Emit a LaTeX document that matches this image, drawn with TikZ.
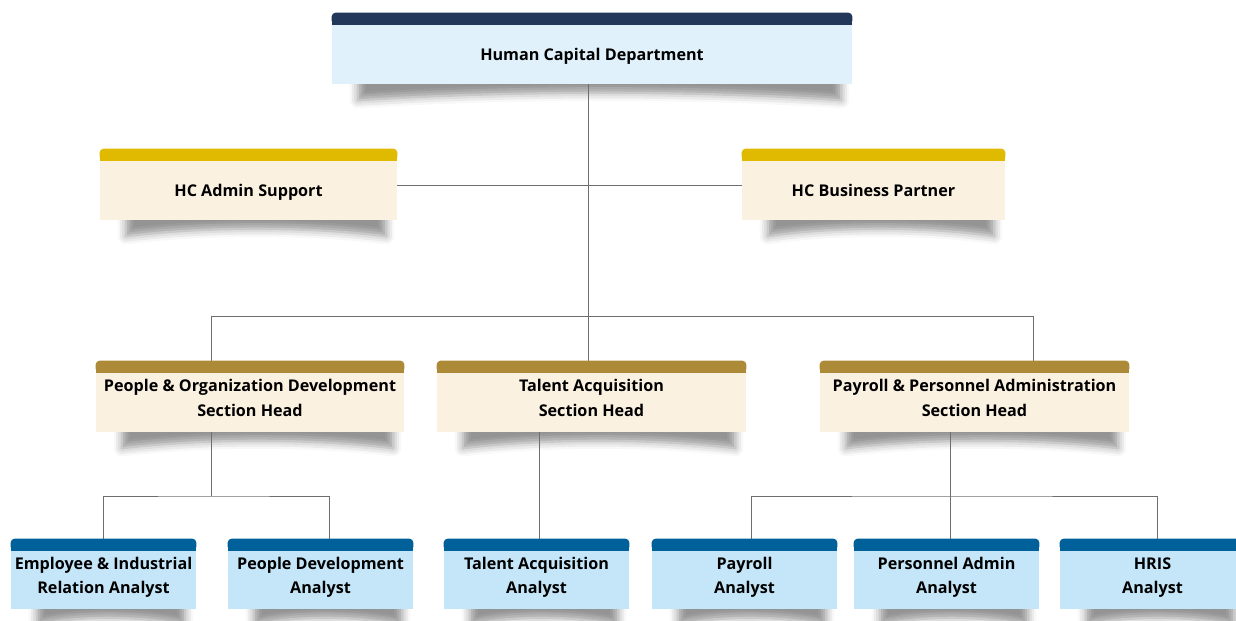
\documentclass[tikz,border=0pt]{standalone}
\usepackage{fontspec}
\setmainfont{Open Sans}
\usepackage{tikz}
\usetikzlibrary{positioning,backgrounds,calc,shadows.blur}
\definecolor{hc-navy}{RGB}{34,55,90}
\definecolor{hc-sky}{RGB}{224,241,251}
\definecolor{hc-gold}{RGB}{224,186,0}
\definecolor{hc-cream}{RGB}{250,241,225}
\definecolor{hc-bronze}{RGB}{173,138,56}
\definecolor{hc-blue}{RGB}{0,96,154}
\definecolor{hc-ice}{RGB}{197,230,248}
\definecolor{hc-line}{RGB}{110,110,110}
\newlength\pu
\setlength\pu{0.02cm}

\begin{document}
\begin{tikzpicture}[x=0.02cm, y=-0.02cm,
    card/.style={rectangle, inner sep=2pt, minimum height=59\pu, align=center, font=\fontsize{9.2}{13.7}\selectfont\bfseries,
        text height=9.9pt, text depth=2.5pt},
    twoline/.style={text height=17.9pt, text depth=2.5pt},
    analyst/.style={card, twoline, fill=hc-ice, minimum width=185\pu, minimum height=58\pu},
    link/.style={draw=hc-line, line width=0.5pt},
    shade/.style={blur shadow={shadow xshift=0pt, shadow yshift=0pt, shadow blur radius=8\pu, shadow opacity=42}}]

    \useasboundingbox (0,0) rectangle (1236,621);

    % Row 1: Department
    \node[card, fill=hc-sky, minimum width=520\pu] (hcd) at (592,54.5) {Human Capital Department};

    % Row 2: Staff
    \node[card, fill=hc-cream, minimum width=297\pu] (adm) at (248.5,190.5) {HC Admin Support};
    \node[card, fill=hc-cream, minimum width=263\pu] (hcbp) at (873.5,190.5) {HC Business Partner};

    % Row 3: Section heads
    \node[card, twoline, fill=hc-cream, minimum width=308\pu] (pod) at (250,402.5) {People \& Organization Development\\Section Head};
    \node[card, twoline, fill=hc-cream, minimum width=309\pu] (ta) at (591.5,402.5) {Talent Acquisition\\Section Head};
    \node[card, twoline, fill=hc-cream, minimum width=309\pu] (ppa) at (974.5,402.5) {Payroll \& Personnel Administration\\Section Head};

    % Row 4: Analysts
    \node[analyst] (eir) at (103.5,580) {Employee \& Industrial\\Relation Analyst};
    \node[analyst] (pd) at (320.5,580) {People Development\\Analyst};
    \node[analyst] (taa) at (536.5,580) {Talent Acquisition\\Analyst};
    \node[analyst] (pay) at (744.5,580) {Payroll\\Analyst};
    \node[analyst] (pa) at (946.5,580) {Personnel Admin\\Analyst};
    \node[analyst] (hris) at (1152.5,580) {HRIS\\Analyst};

    % Header bands
    \foreach \n/\c in {hcd/hc-navy, adm/hc-gold, hcbp/hc-gold, pod/hc-bronze, ta/hc-bronze, ppa/hc-bronze,
        eir/hc-blue, pd/hc-blue, taa/hc-blue, pay/hc-blue, pa/hc-blue, hris/hc-blue} {
        \fill[\c, rounded corners=4\pu] (\n.north west) rectangle ([yshift=12\pu]\n.north east);
        \fill[\c] (\n.north west) rectangle ([yshift=6\pu]\n.north east);
    }

    % Junctions
    \coordinate (staff) at (588,185);
    \coordinate (split) at (588,316);
    \coordinate (podtop) at (211,316);
    \coordinate (ppatop) at (1033,316);
    \coordinate (podbus) at (211,496);
    \coordinate (ppabus) at (950,496);

    \begin{scope}[on background layer]
        % Curled shadows
        \foreach \n in {hcd, adm, hcbp, pod, ta, ppa, eir, pd, taa, pay, pa, hris}
            \path[shade] ([xshift=26\pu,yshift=10\pu]\n.south west) -- ([xshift=-11\pu,yshift=10\pu]\n.south east)
                -- ([xshift=-11\pu,yshift=-16\pu]\n.south east)
                .. controls ([yshift=-6\pu]$(\n.south west)!0.7!(\n.south east)$) and ([yshift=-6\pu]$(\n.south west)!0.35!(\n.south east)$)
                .. ([xshift=26\pu,yshift=-16\pu]\n.south west) -- cycle;

        % Connectors
        \draw[link] (hcd.south -| split) -- (split) -- (ta.north -| split);
        \draw[link] (adm.east |- staff) -- (hcbp.west |- staff);
        \draw[link] (pod.north -| podtop) -- (podtop) -- (ppatop) -- (ppa.north -| ppatop);
        \draw[link] (pod.south -| podbus) -- (podbus);
        \draw[link] (eir.north) |- (podbus) -| ([xshift=8.5\pu]pd.north);
        \draw[link] ([xshift=2.5\pu]ta.south -| taa.north) -- ([xshift=2.5\pu]taa.north);
        \draw[link] (ppa.south -| ppabus) -- (ppabus |- pa.north);
        \draw[link] ([xshift=6.5\pu]pay.north) |- (ppabus) -| ([xshift=4.5\pu]hris.north);
    \end{scope}
\end{tikzpicture}
\end{document}
